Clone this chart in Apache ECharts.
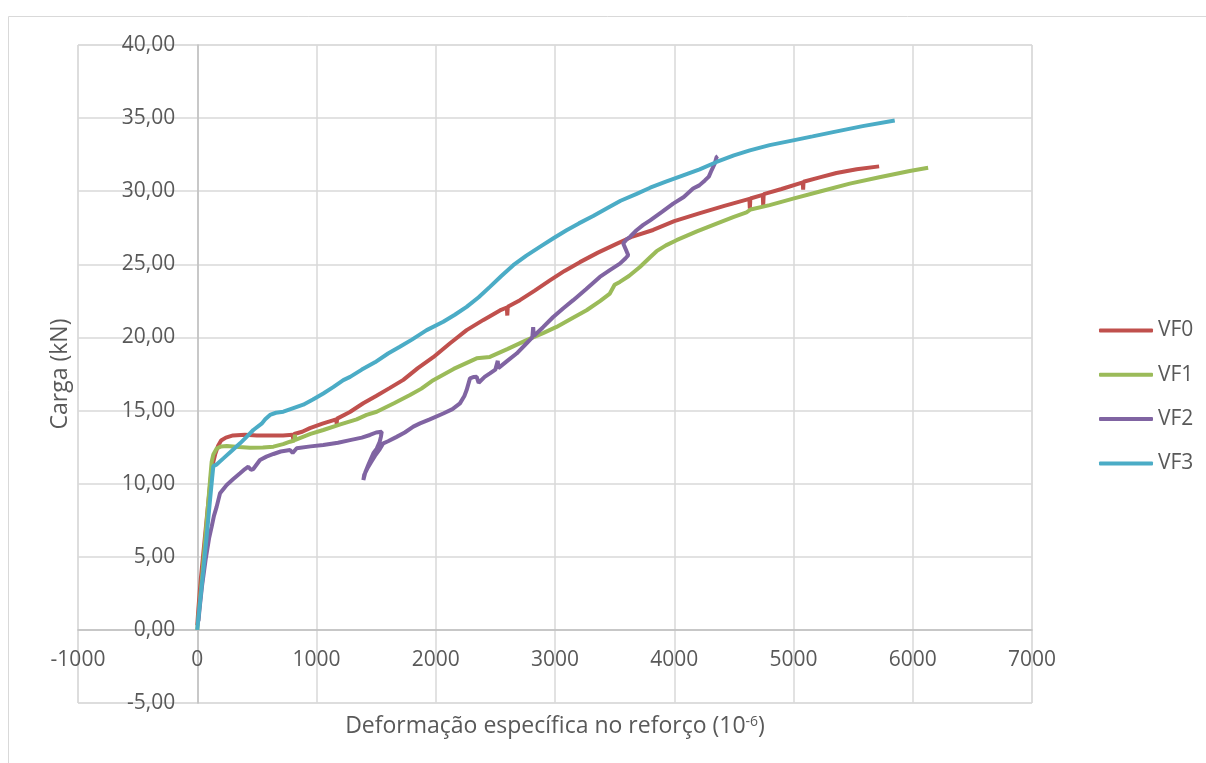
<!DOCTYPE html>
<html>
<head>
<meta charset="utf-8">
<script src="https://cdn.jsdelivr.net/npm/echarts@6/dist/echarts.min.js"></script>
<style>
html,body{margin:0;padding:0;background:#fff;}
#chart{width:1206px;height:763px;}
</style>
</head>
<body>
<div id="chart"></div>
<script>
const seriesNames = ['VF0', 'VF1', 'VF2', 'VF3'];
const xTickLabels = ['-1000', '0', '1000', '2000', '3000', '4000', '5000', '6000', '7000'];
const yTickLabels = ['-5,00', '0,00', '5,00', '10,00', '15,00', '20,00', '25,00', '30,00', '35,00', '40,00'];

const vf0 = [[0,0.3],[10,1.5],[30,3.5],[60,6],[90,8.5],[115,10.5],[135,11.5],[150,12.0],[175,12.6],[200,12.95],[240,13.15],[300,13.3],[400,13.35],[500,13.3],[640,13.3],[720,13.3],[800,13.35],[806,13.0],[812,13.4],[880,13.55],[945,13.8],[1050,14.1],[1165,14.4],[1169,14.1],[1173,14.45],[1280,14.9],[1392,15.5],[1500,16.0],[1616,16.55],[1728,17.1],[1850,17.9],[1979,18.65],[2120,19.6],[2259,20.5],[2400,21.2],[2538,21.85],[2596,22.05],[2600,21.5],[2604,22.1],[2706,22.55],[2830,23.2],[2957,23.9],[3080,24.55],[3209,25.15],[3360,25.8],[3516,26.4],[3650,26.9],[3823,27.35],[4000,27.95],[4216,28.5],[4420,29.0],[4630,29.48],[4634,28.8],[4638,29.5],[4742,29.75],[4746,29.05],[4750,29.8],[4900,30.15],[5078,30.6],[5081,30.1],[5084,30.65],[5220,30.95],[5360,31.25],[5530,31.5],[5718,31.7]];

const vf1 = [[0,0],[20,1.8],[45,4],[70,6.5],[95,9.0],[110,10.5],[121,11.5],[135,12.0],[163,12.4],[200,12.55],[247,12.57],[350,12.5],[443,12.46],[550,12.48],[639,12.53],[720,12.7],[778,12.87],[815,12.95],[819,13.35],[823,13.0],[834,13.1],[950,13.4],[1057,13.67],[1200,14.05],[1337,14.4],[1420,14.7],[1505,14.92],[1650,15.5],[1784,16.06],[1880,16.5],[1979,17.08],[2150,17.85],[2343,18.57],[2454,18.67],[2600,19.2],[2762,19.82],[2900,20.3],[3013,20.72],[3140,21.3],[3265,21.86],[3380,22.5],[3460,23.0],[3500,23.6],[3544,23.8],[3620,24.2],[3712,24.82],[3800,25.5],[3852,25.9],[3930,26.3],[4019,26.65],[4190,27.25],[4355,27.79],[4500,28.25],[4606,28.55],[4640,28.75],[4800,29.05],[4997,29.49],[5230,30.0],[5472,30.52],[5720,30.95],[5975,31.38],[6129,31.6]];

const vf2 = [[10,0.6],[20,1.5],[40,3.0],[70,4.8],[100,6.3],[121,7.06],[140,7.8],[163,8.43],[191,9.34],[247,9.91],[300,10.3],[359,10.71],[400,11.0],[428,11.16],[450,10.95],[470,11.0],[526,11.62],[580,11.85],[639,12.03],[700,12.2],[778,12.3],[800,12.1],[834,12.42],[950,12.55],[1057,12.64],[1180,12.8],[1281,12.98],[1380,13.15],[1448,13.33],[1500,13.5],[1547,13.55],[1540,13.2],[1530,12.87],[1505,12.4],[1477,12.08],[1440,11.4],[1410,10.8],[1393,10.25],[1400,10.6],[1430,11.1],[1460,11.5],[1490,11.9],[1530,12.35],[1560,12.76],[1600,12.9],[1672,13.2],[1740,13.5],[1812,13.9],[1868,14.12],[1950,14.4],[2063,14.8],[2140,15.1],[2203,15.49],[2240,16.0],[2259,16.4],[2287,17.2],[2320,17.3],[2343,17.31],[2360,16.9],[2371,16.86],[2410,17.3],[2454,17.54],[2500,17.8],[2520,18.4],[2525,17.9],[2538,17.99],[2600,18.4],[2678,18.9],[2750,19.5],[2810,20.0],[2817,20.7],[2822,20.1],[2900,20.7],[2985,21.4],[3070,22.0],[3153,22.55],[3260,23.3],[3376,24.14],[3460,24.6],[3544,25.05],[3590,25.4],[3614,25.62],[3600,25.9],[3572,26.42],[3600,26.7],[3628,26.87],[3684,27.33],[3740,27.7],[3798,28.01],[3900,28.6],[3991,29.15],[4080,29.6],[4158,30.18],[4210,30.4],[4257,30.74],[4290,31.0],[4313,31.43],[4340,31.9],[4355,32.34],[4365,32.4]];

const vf3 = [[0,0],[23,1.85],[50,4.0],[80,6.5],[105,8.7],[125,10.4],[135,11.2],[160,11.3],[219,11.73],[290,12.25],[359,12.76],[420,13.25],[470,13.67],[540,14.1],[570,14.4],[610,14.7],[660,14.85],[722,14.92],[800,15.15],[889,15.4],[970,15.75],[1057,16.17],[1140,16.6],[1225,17.08],[1282,17.3],[1380,17.8],[1490,18.3],[1600,18.9],[1699,19.36],[1800,19.85],[1924,20.5],[2063,21.07],[2160,21.55],[2259,22.09],[2360,22.75],[2454,23.46],[2550,24.2],[2650,24.94],[2760,25.6],[2873,26.19],[2990,26.8],[3097,27.33],[3200,27.8],[3320,28.3],[3440,28.85],[3550,29.35],[3680,29.8],[3798,30.24],[3930,30.65],[4075,31.09],[4213,31.5],[4355,32.0],[4500,32.45],[4634,32.79],[4800,33.15],[4997,33.48],[5160,33.75],[5332,34.04],[5580,34.45],[5849,34.84]];

const seriesData = [vf0, vf1, vf2, vf3];
const colors = ['#C0504D', '#9BBB59', '#8064A2', '#4BACC6'];
const FONT = 'Open Sans';
const TXT = '#595959';

// grid geometry
const G = {left: 78, right: 174, top: 45, bottom: 60};
const W = 1206, H = 763;
const gw = W - G.left - G.right, gh = H - G.top - G.bottom;
const xMin = -1000, xMax = 7000, yMin = -5, yMax = 40;
const yAxisShift = -((0 - xMin) / (xMax - xMin)) * gw;      // move y axis to x = 0
const xAxisShift = -((0 - yMin) / (yMax - yMin)) * gh;      // move x axis to y = 0

const chart = echarts.init(document.getElementById('chart'), null, {renderer: 'canvas'});
chart.setOption({
  animation: false,
  backgroundColor: '#fff',
  color: colors,
  textStyle: {fontFamily: FONT},
  graphic: [{
    type: 'rect', silent: true, z: -10,
    shape: {x: 8.5, y: 16.5, width: 1210, height: 760},
    style: {fill: 'none', stroke: '#d9d9d9', lineWidth: 1}
  }],
  grid: {left: G.left, right: G.right, top: G.top, bottom: G.bottom, show: true, borderColor: '#d9d9d9', borderWidth: 1, containLabel: false, outerBoundsMode: 'none'},
  legend: {
    orient: 'vertical', left: 1094, top: 315,
    itemWidth: 54, itemHeight: 4, itemGap: 23.3,
    icon: 'roundRect',
    textStyle: {fontFamily: FONT, fontSize: 21, color: TXT},
    data: seriesNames
  },
  xAxis: {
    type: 'value', min: xMin, max: xMax, interval: 1000,
    offset: xAxisShift,
    axisLine: {show: true, onZero: false, lineStyle: {color: '#bfbfbf', width: 1.5}},
    axisTick: {show: false},
    splitLine: {show: true, lineStyle: {color: '#d9d9d9', width: 1.5}},
    axisLabel: {
      margin: 20, fontSize: 21, color: TXT, fontFamily: FONT,
      formatter: v => xTickLabels[Math.round((v - xMin) / 1000)]
    },
    name: '{a|Deformação específica no reforço (10}{s|-6}{a|)}',
    nameLocation: 'middle', nameGap: 85,
    nameTextStyle: {
      color: TXT, fontFamily: FONT,
      rich: {
        a: {fontSize: 23, color: TXT, fontFamily: FONT},
        s: {fontSize: 14, color: TXT, fontFamily: FONT, padding: [0, 0, 10, 0]}
      }
    }
  },
  yAxis: {
    type: 'value', min: yMin, max: yMax, interval: 5,
    offset: yAxisShift,
    axisLine: {show: true, onZero: false, lineStyle: {color: '#bfbfbf', width: 1.5}},
    axisTick: {show: false},
    splitLine: {show: true, lineStyle: {color: '#d9d9d9', width: 1.5}},
    axisLabel: {
      margin: 22, fontSize: 21, color: TXT, fontFamily: FONT,
      formatter: v => yTickLabels[Math.round((v - yMin) / 5)]
    },
    name: 'Carga (kN)', nameLocation: 'middle', nameGap: 125, nameRotate: 90,
    nameTextStyle: {fontSize: 23, color: TXT, fontFamily: FONT}
  },
  series: seriesNames.map((n, i) => ({
    name: n, type: 'line', data: seriesData[i],
    showSymbol: false, symbol: 'none',
    lineStyle: {width: 4, color: colors[i]},
    itemStyle: {color: colors[i]},
    z: 2 + i
  }))
});
</script>
</body>
</html>
